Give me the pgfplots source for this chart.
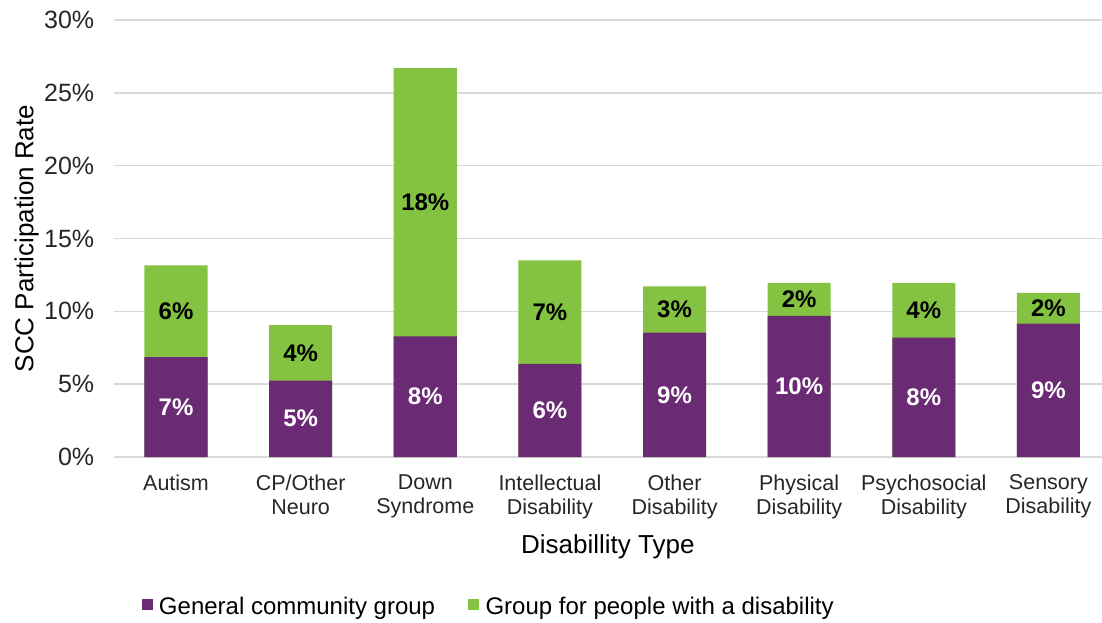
\documentclass[border=0pt]{standalone}
\usepackage{pgfplots}
\pgfplotsset{compat=1.18}
\usepackage{pgfplotstable}
\usepackage{fontspec}
\setmainfont{Liberation Sans}
\definecolor{purp}{RGB}{107,42,116}
\definecolor{grn}{RGB}{132,194,65}
\definecolor{gridc}{RGB}{217,217,217}
\pgfplotstableread{
x p g pl gl
0 6.86 6.29 7 6
1 5.25 3.81 5 4
2 8.28 18.42 8 18
3 6.40 7.09 6 7
4 8.53 3.19 9 3
5 9.68 2.27 10 2
6 8.19 3.76 8 4
7 9.15 2.12 9 2
}\data
\begin{document}
\begin{tikzpicture}
\begin{axis}[
  scale only axis, width=988.3pt, height=437pt,
  xmin=-0.5, xmax=7.43, ymin=0, ymax=30,
  axis line style={draw=none},
  major tick length=0pt,
  ytick={0,5,...,30},
  yticklabel={\pgfmathprintnumber{\tick}\%},
  /pgf/number format/assume math mode=true,
  ymajorgrids, grid style={gridc, line width=1.5pt},
  xtick={0,...,7},
  xticklabels={Autism, CP/Other\\Neuro, Down\\Syndrome, Intellectual\\Disability, Other\\Disability, Physical\\Disability, Psychosocial\\Disability, Sensory\\Disability},
  xticklabel style={align=center, font=\fontsize{21.5}{24}\selectfont, yshift=-14pt, text=black!85},
  yticklabel style={font=\fontsize{25}{29}\selectfont, xshift=-16pt, text=black!85},
  xlabel={Disabillity Type}, ylabel={SCC Participation Rate},
  xlabel style={font=\fontsize{26}{30}\selectfont, at={(axis description cs:0.5,-0.205)}, anchor=center},
  ylabel style={font=\fontsize{26}{30}\selectfont, at={(axis description cs:-0.088,0.5)}, anchor=center},
  legend style={at={(axis description cs:0.025,-0.343)}, anchor=west, draw=none, fill=none,
    font=\fontsize{24}{28}\selectfont, /tikz/every even column/.append style={column sep=31pt}},
  legend columns=2,
  clip=false,
]
\addplot[ybar, bar width=0.506, bar shift=0pt, fill=grn, draw=none, forget plot]
  table[x=x, y expr=\thisrow{p}+\thisrow{g}] {\data};
\addplot[ybar, bar width=0.506, bar shift=0pt, fill=purp, draw=none, forget plot]
  table[x=x, y=p] {\data};
\addplot[draw=none, mark=none, forget plot, point meta=explicit,
  nodes near coords={\pgfmathprintnumber{\pgfplotspointmeta}\%},
  nodes near coords style={anchor=center, text=white, font=\bfseries\fontsize{24}{28}\selectfont}]
  table[x=x, y expr=\thisrow{p}/2, meta=pl] {\data};
\addplot[draw=none, mark=none, forget plot, point meta=explicit,
  nodes near coords={\pgfmathprintnumber{\pgfplotspointmeta}\%},
  nodes near coords style={anchor=center, text=black, font=\bfseries\fontsize{24}{28}\selectfont}]
  table[x=x, y expr=\thisrow{p}+\thisrow{g}/2, meta=gl] {\data};
\addlegendimage{legend image code/.code={\fill[purp] (0pt,-2pt) rectangle (10pt,8pt); \path (15pt,0pt);}}
\addlegendentry{General community group}
\addlegendimage{legend image code/.code={\fill[grn] (0pt,-2pt) rectangle (10pt,8pt); \path (15pt,0pt);}}
\addlegendentry{Group for people with a disability}
\end{axis}
\pgfresetboundingbox
\path[use as bounding box] ([xshift=-113.7pt,yshift=-166pt]current axis.south west) rectangle ([yshift=20pt]current axis.north east);
\end{tikzpicture}
\end{document}
